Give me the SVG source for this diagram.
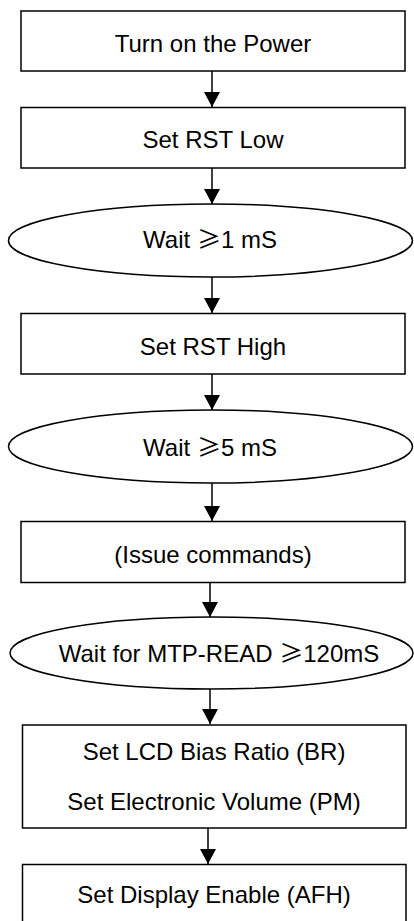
<svg xmlns="http://www.w3.org/2000/svg" width="414" height="921" viewBox="0 0 414 921">
<style>
.box{fill:#fff;stroke:#000;stroke-width:1.5}
.t{font-family:"Liberation Sans",Arial,sans-serif;font-size:24px;fill:#000;text-anchor:middle}
.g{font-family:"Noto Sans CJK SC","Liberation Sans",sans-serif}
.c{stroke:#000;stroke-width:1.5;fill:none;marker-end:url(#ah)}
</style>
<defs>
<marker id="ah" viewBox="0 0 15 16" refX="15" refY="8" markerWidth="15" markerHeight="16" markerUnits="userSpaceOnUse" orient="auto">
<path d="M0,0 L15,8 L0,16 Z" fill="#000"/>
</marker>
</defs>
<rect width="414" height="921" fill="#fff"/>
<g id="connectors">
<line class="c" x1="212" y1="71" x2="212" y2="107"/>
<line class="c" x1="212" y1="168" x2="212" y2="204"/>
<line class="c" x1="212" y1="277" x2="212" y2="313"/>
<line class="c" x1="212" y1="374" x2="212" y2="410"/>
<line class="c" x1="212" y1="483" x2="212" y2="521"/>
<line class="c" x1="210" y1="583" x2="210" y2="617"/>
<line class="c" x1="210" y1="689" x2="210" y2="724"/>
<line class="c" x1="208" y1="828" x2="208" y2="864"/>
</g>
<g id="n1"><rect class="box" x="21" y="11" width="384" height="60"/><text class="t" x="213" y="52">Turn on the Power</text></g>
<g id="n2"><rect class="box" x="21" y="107.5" width="384" height="60.5"/><text class="t" x="213" y="148">Set RST Low</text></g>
<g id="n3"><ellipse class="box" cx="210.5" cy="240.5" rx="202" ry="36.5"/><text class="t" x="210" y="248">Wait <tspan class="g">≥</tspan>1 mS</text></g>
<g id="n4"><rect class="box" x="21" y="313.5" width="384" height="60.5"/><text class="t" x="213" y="355">Set RST High</text></g>
<g id="n5"><ellipse class="box" cx="210.5" cy="446.5" rx="202" ry="36.5"/><text class="t" x="210" y="456">Wait <tspan class="g">≥</tspan>5 mS</text></g>
<g id="n6"><rect class="box" x="21" y="521.5" width="384" height="61"/><text class="t" x="213" y="563">(Issue commands)</text></g>
<g id="n7"><ellipse class="box" cx="211.5" cy="653" rx="201.5" ry="36"/><text class="t" x="219" y="662">Wait for MTP-READ <tspan class="g">≥</tspan>120mS</text></g>
<g id="n8"><rect class="box" x="22.5" y="725" width="383.5" height="103"/><text class="t" x="214" y="760">Set LCD Bias Ratio (BR)</text><text class="t" x="214" y="810">Set Electronic Volume (PM)</text></g>
<g id="n9"><rect class="box" x="22.5" y="864.5" width="383.5" height="70"/><text class="t" x="214" y="903">Set Display Enable (AFH)</text></g>
</svg>
